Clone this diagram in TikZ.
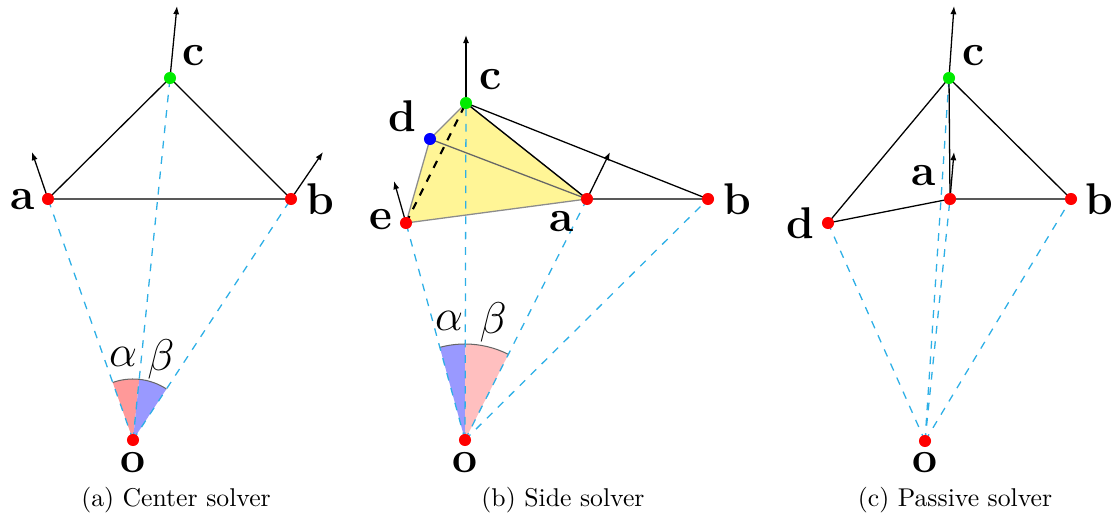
\documentclass[tikz,border=0pt]{standalone}
\usepackage{amsmath,amssymb,bm}
\usepackage{xcolor}
\usepackage{tikz}
\usetikzlibrary{arrows.meta,positioning,calc}
\definecolor{pcyan}{RGB}{45,175,230}
\definecolor{pyellow}{RGB}{255,245,150}
\definecolor{pgreen}{RGB}{0,235,0}
\colorlet{wred}{red!40}
\colorlet{wblue}{blue!40}
\colorlet{wpink}{red!25}
\tikzset{
  % marked point, red unless told otherwise
  pnt/.style   = {circle, fill=#1, inner sep=0pt, minimum size=4.7pt},
  pnt/.default = red,
  lbl/.style   = {font=\LARGE\bfseries, inner sep=0pt},
  ang/.style   = {font=\LARGE, inner sep=0pt},
  capt/.style  = {font=\normalsize, inner sep=0pt},
  ray/.style   = {dashed, pcyan, line width=0.5pt},
  edg/.style   = {line width=0.5pt},
  vec/.style   = {-{Latex[length=3.2pt,width=2.4pt]}, line width=0.5pt},
  rim/.style   = {black!60, line width=0.4pt},
}

\begin{document}
\begin{tikzpicture}[x=0.389pt,y=0.389pt]
\useasboundingbox (0,0) rectangle (1119,519);
% center solver
\coordinate (aA) at (48,320);
\coordinate (bA) at (291,320);
\coordinate (cA) at (170,441);
\coordinate (oA) at (133,79);
\coordinate (tA1) at (177,513);
\coordinate (tA2) at (32,367);
\coordinate (tA3) at (323,367);
% side solver
\coordinate (cB) at (466,416);
\coordinate (dB) at (430,380);
\coordinate (eB) at (406,296);
\coordinate (aB) at (587,320);
\coordinate (bB) at (708,320);
\coordinate (oB) at (465,79);
\coordinate (tB1) at (466,484);
\coordinate (tB2) at (610,367);
\coordinate (tB3) at (394,338);
% passive solver
\coordinate (cC) at (949,441);
\coordinate (aC) at (950,320);
\coordinate (bC) at (1071,320);
\coordinate (dC) at (828,296);
\coordinate (oC) at (925,78);
\coordinate (tC1) at (954,513);
\coordinate (tC2) at (954,367);
% angle wedges
\foreach \cen/\src/\dst/\rad/\col in {oA/aA/cA/61/wred, oA/cA/bA/61/wblue,
                                     oB/eB/cB/96/wblue, oB/cB/aB/96/wpink}
{
  \fill[\col] let \p1=($(\src)-(\cen)$), \p2=($(\dst)-(\cen)$),
    \n1={atan2(\y1,\x1)}, \n2={atan2(\y2,\x2)} in
    (\cen) -- ++(\n1:\rad) arc[start angle=\n1, end angle=\n2, radius=\rad] -- cycle;
  \draw[rim] let \p1=($(\src)-(\cen)$), \p2=($(\dst)-(\cen)$),
    \n1={atan2(\y1,\x1)}, \n2={atan2(\y2,\x2)} in
    ($(\cen)+(\n1:\rad)$) arc[start angle=\n1, end angle=\n2, radius=\rad];
}
\filldraw[fill=pyellow, draw=black!45, edg] (eB) -- (dB) -- (cB) -- (aB) -- cycle;
% rays from o
\foreach \v in {aA,cA,bA} {\draw[ray] (oA) -- (\v);}
\foreach \v in {eB,cB,aB,bB} {\draw[ray] (oB) -- (\v);}
\foreach \v in {dC,aC,cC,bC} {\draw[ray] (oC) -- (\v);}
% edges
\draw[edg] (aA) -- (cA) -- (bA) -- cycle;
\draw[edg, black!60] (dB) -- (aB);
\draw[edg] (cB) -- (aB) -- (bB) -- cycle;
\draw[dashed, line width=0.8pt] (eB) -- (cB);
\draw[edg] (dC) -- (cC) -- (bC) -- (aC) -- cycle;
\draw[edg] (cC) -- (aC);
% normals
\draw[vec] (cA) -- (tA1);
\draw[vec] (aA) -- (tA2);
\draw[vec] (bA) -- (tA3);
\draw[vec] (cB) -- (tB1);
\draw[vec] (aB) -- (tB2);
\draw[vec] (eB) -- (tB3);
\draw[vec] (cC) -- (tC1);
\draw[vec] (aC) -- (tC2);
% points
\foreach \v in {aA,bA,oA,eB,aB,bB,oB,dC,aC,bC,oC}
  {\node[pnt] (n\v) at (\v) {};}
\foreach \v in {cA,cB,cC}
  {\node[pnt=pgreen] (n\v) at (\v) {};}
\node[pnt=blue] (ndB) at (dB) {};
% labels
\node[lbl] (laA) at (23,319.5) {a};
\node[lbl] (lbA) at (320,319.5) {b};
\node[lbl] (lcA) at (194,463) {c};
\node[lbl] (loA) at (133,56) {o};
\node[ang] (alA) at (123,162) {$\alpha$};
\node[ang] (beA) at (161,160) {$\beta$};
\node[lbl] (lcB) at (491,439) {c};
\node[lbl] (ldB) at (402,403) {d};
\node[lbl] (leB) at (381,299) {e};
\node[lbl] (laB) at (562,297) {a};
\node[lbl] (lbB) at (737,319.5) {b};
\node[lbl] (loB) at (465,56) {o};
\node[ang] (alB) at (449,198) {$\alpha$};
\node[ang] (beB) at (493,197) {$\beta$};
\node[lbl] (lcC) at (974,463) {c};
\node[lbl] (laC) at (924,343) {a};
\node[lbl] (lbC) at (1099,319.5) {b};
\node[lbl] (ldC) at (800,296) {d};
\node[lbl] (loC) at (925,56) {o};
% captions
\node[capt] (capA) at (176,19) {(a) Center solver};
\node[capt] (capB) at (563,19) {(b) Side solver};
\node[capt] (capC) at (955,19) {(c) Passive solver};
\end{tikzpicture}
\end{document}
